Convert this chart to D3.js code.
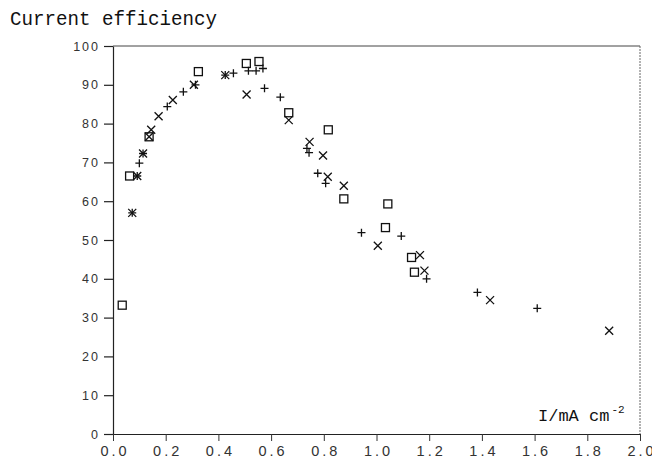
<!DOCTYPE html>
<html><head><meta charset="utf-8">
<script src="https://cdn.jsdelivr.net/npm/d3@7/dist/d3.min.js"></script>
<style>
html,body{margin:0;padding:0;background:#fff;}
svg{display:block;}
</style></head>
<body>
<script>
// ---- data ----
const xTicks = [0.0,0.2,0.4,0.6,0.8,1.0,1.2,1.4,1.6,1.8,2.0];
const xTickLabels = ["0.0","0.2","0.4","0.6","0.8","1.0","1.2","1.4","1.6","1.8","2.0"];
const yTicks = [0,10,20,30,40,50,60,70,80,90,100];
const yTickLabels = ["0","10","20","30","40","50","60","70","80","90","100"];

const squareSeries = [
  [0.035,33.2],[0.063,66.5],[0.137,76.6],[0.324,93.4],[0.506,95.5],[0.554,96.0],
  [0.667,82.8],[0.817,78.4],[0.876,60.6],[1.043,59.3],[1.034,53.2],[1.133,45.5],[1.144,41.7]
];
const plusSeries = [
  [0.073,57.0],[0.092,66.5],[0.100,69.8],[0.114,72.3],[0.206,84.4],[0.267,88.2],
  [0.313,90.0],[0.426,92.5],[0.457,93.0],[0.514,93.6],[0.543,93.6],[0.569,94.2],
  [0.575,89.1],[0.635,86.8],[0.736,73.6],[0.744,72.5],[0.777,67.2],[0.807,64.6],
  [0.943,51.9],[1.094,51.0],[1.190,40.0],[1.383,36.5],[1.610,32.4]
];
const crossSeries = [
  [0.073,57.0],[0.092,66.5],[0.114,72.3],[0.137,76.6],[0.145,78.4],[0.173,81.9],
  [0.227,86.1],[0.307,90.0],[0.426,92.5],[0.507,87.5],[0.667,80.9],[0.746,75.3],
  [0.797,71.8],[0.815,66.3],[0.876,64.0],[1.005,48.5],[1.165,46.1],[1.182,42.1],
  [1.431,34.5],[1.883,26.6]
];
const titleText = "Current efficiency";
const xAxisLabel = "I/mA cm";
const xAxisLabelSup = "-2";

// ---- layout ----
const W = 652, H = 463;
const x0 = 113, x1 = 640, yTop = 46, yBot = 434;

const svg = d3.select("body").append("svg").attr("width", W).attr("height", H);

const x = d3.scaleLinear().domain([0, 2]).range([x0, x1]);
const y = d3.scaleLinear().domain([0, 100]).range([yBot, yTop]);

// frame top/right
svg.append("line").attr("x1", x0).attr("x2", x1).attr("y1", yTop).attr("y2", yTop)
  .attr("stroke", "#444").attr("stroke-width", 1);
svg.append("line").attr("x1", x1).attr("x2", x1).attr("y1", yTop).attr("y2", yBot)
  .attr("stroke", "#666").attr("stroke-width", 1).attr("stroke-dasharray", "2,1");

// y axis
const yAx = svg.append("g").attr("transform", `translate(${x0},0)`)
  .call(d3.axisLeft(y).tickValues(yTicks).tickFormat((d,i)=>yTickLabels[i]).tickSize(9).tickSizeOuter(0).tickPadding(6));
yAx.select(".domain").attr("stroke", "#222").attr("stroke-width", 1.2);
yAx.selectAll(".tick line").attr("stroke", "#222").attr("stroke-width", 1.2);
yAx.selectAll(".tick text")
  .attr("font-family", "'Liberation Sans', Arial, sans-serif")
  .attr("font-size", 12.5).attr("fill", "#333").attr("letter-spacing", "2px").attr("dx", "2");

// x axis
const xAx = svg.append("g").attr("transform", `translate(0,${yBot})`)
  .call(d3.axisBottom(x).tickValues(xTicks).tickFormat((d,i)=>xTickLabels[i]).tickSize(7).tickSizeOuter(0).tickPadding(5));
xAx.select(".domain").attr("stroke", "#222").attr("stroke-width", 1.2);
xAx.selectAll(".tick line").attr("stroke", "#333").attr("stroke-width", 1);
xAx.selectAll(".tick text")
  .attr("font-family", "'Liberation Sans', Arial, sans-serif")
  .attr("font-size", 14.5).attr("fill", "#333").attr("letter-spacing", "3px").attr("dx", "1.5");

// title
svg.append("text").attr("x", 10).attr("y", 25)
  .attr("font-family", "'Liberation Mono', 'DejaVu Sans Mono', monospace")
  .attr("font-size", 20).attr("fill", "#111")
  .attr("textLength", 207).attr("lengthAdjust", "spacingAndGlyphs")
  .text(titleText);

// x axis label
const lab = svg.append("text").attr("x", 538).attr("y", 421)
  .attr("font-family", "'Liberation Mono', 'DejaVu Sans Mono', monospace")
  .attr("font-size", 17).attr("fill", "#111");
lab.append("tspan").text(xAxisLabel);
lab.append("tspan").attr("font-size", 11).attr("dy", -8).attr("dx", 2).text(xAxisLabelSup);

// markers
const mk = svg.append("g").attr("fill", "none").attr("stroke", "#111").attr("stroke-width", 1.3);
const s = 4;
mk.selectAll("rect.sq").data(squareSeries).join("rect").attr("class", "sq")
  .attr("x", d => x(d[0]) - s).attr("y", d => y(d[1]) - s)
  .attr("width", 2*s).attr("height", 2*s);
mk.selectAll("path.pl").data(plusSeries).join("path").attr("class", "pl")
  .attr("transform", d => `translate(${x(d[0])},${y(d[1])})`)
  .attr("d", `M${-s},0H${s}M0,${-s}V${s}`);
mk.selectAll("path.cr").data(crossSeries).join("path").attr("class", "cr")
  .attr("transform", d => `translate(${x(d[0])},${y(d[1])})`)
  .attr("d", `M${-s},${-s}L${s},${s}M${-s},${s}L${s},${-s}`);
</script>
</body></html>
